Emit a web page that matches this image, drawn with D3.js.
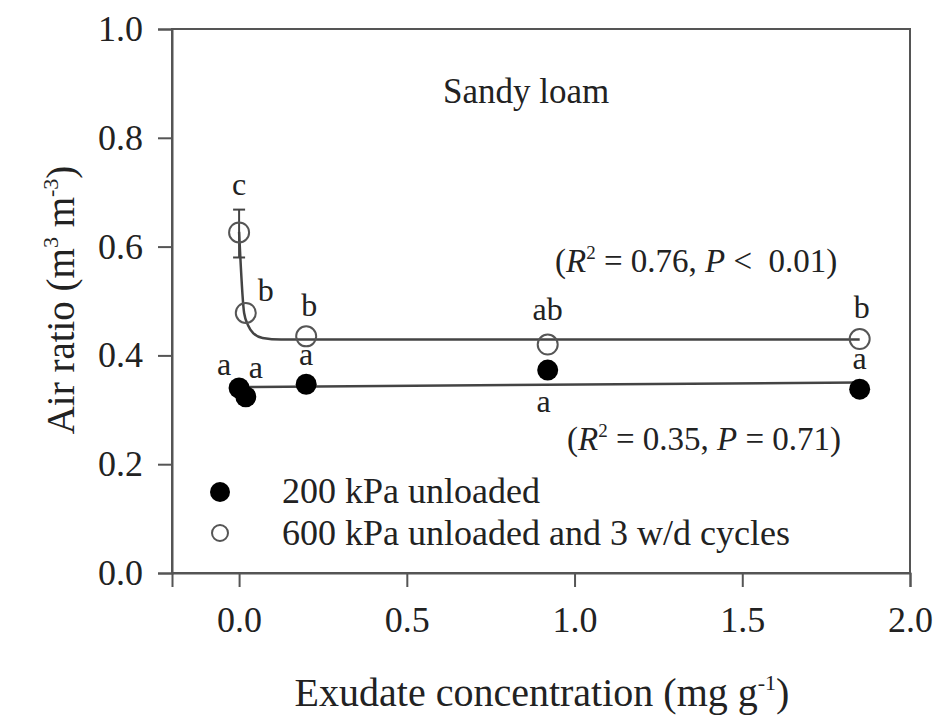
<!DOCTYPE html>
<html>
<head>
<meta charset="utf-8">
<script src="https://cdn.jsdelivr.net/npm/d3@7/dist/d3.min.js"></script>
<style>
body { margin: 0; background: #fff; }
text { font-family: "Liberation Serif", "Times New Roman", serif; fill: #222; }
</style>
</head>
<body>
<div id="draw"></div>
<script>
// exudate concentration (mg g-1)
var xVals = [0, 0.02, 0.2, 0.92, 1.85];

// air ratio, 200 kPa unloaded (filled)
var filledVals = [0.340, 0.324, 0.347, 0.373, 0.338];
var filledLetters = ['a', 'a', 'a', 'a', 'a'];

// air ratio, 600 kPa unloaded + 3 w/d cycles (open)
var openVals = [0.626, 0.478, 0.435, 0.420, 0.430];
var openLetters = ['c', 'b', 'b', 'ab', 'b'];
var openErrLo = [0.580, null, null, null, null];
var openErrHi = [0.668, null, null, null, null];

// fitted curves
var openFit = [[0, 0.627], [0.015, 0.478], [0.027, 0.455], [0.042, 0.441], [0.07, 0.432], [0.125, 0.429], [1.85, 0.429]];
var filledFit = [[0.02, 0.342], [1.85, 0.350]];

var xTicks = [0, 0.5, 1.0, 1.5, 2.0];
var yTicks = [0, 0.2, 0.4, 0.6, 0.8, 1.0];

var W = 940, H = 727;
var x = d3.scaleLinear().domain([-0.2, 2.0]).range([172, 910]);
var y = d3.scaleLinear().domain([0, 1]).range([573, 29]);

var svg = d3.select('#draw').append('svg')
    .attr('width', W).attr('height', H);

var axisColor = '#555';

// frame
svg.append('rect')
    .attr('x', x(-0.2)).attr('y', y(1))
    .attr('width', x(2.0) - x(-0.2)).attr('height', y(0) - y(1))
    .attr('fill', 'none').attr('stroke', axisColor).attr('stroke-width', 2);

// axes
var gx = svg.append('g').attr('transform', 'translate(0,' + y(0) + ')')
    .call(d3.axisBottom(x).tickValues(xTicks).tickSize(14).tickPadding(19)
        .tickFormat(d3.format('.1f')));
var gy = svg.append('g').attr('transform', 'translate(' + x(-0.2) + ',0)')
    .call(d3.axisLeft(y).tickValues(yTicks).tickSize(14).tickPadding(15)
        .tickFormat(d3.format('.1f')));
[gx, gy].forEach(function(g){
    g.select('.domain').attr('stroke', axisColor).attr('stroke-width', 2);
    g.selectAll('.tick line').attr('stroke', axisColor).attr('stroke-width', 2);
    g.selectAll('.tick text').attr('font-family', '"Liberation Serif", serif')
        .attr('font-size', 36).attr('fill', '#333');
});

// axis titles
svg.append('text')
    .attr('x', 542).attr('y', 706)
    .attr('text-anchor', 'middle').attr('font-size', 40)
    .html('Exudate concentration (mg g<tspan dy="-16" font-size="22">-1</tspan><tspan dy="16">)</tspan>');

svg.append('text')
    .attr('transform', 'translate(74,300) rotate(-90)')
    .attr('text-anchor', 'middle').attr('font-size', 39)
    .html('Air ratio (m<tspan dy="-16" font-size="22">3</tspan><tspan dy="16"> m</tspan><tspan dy="-16" font-size="22">-3</tspan><tspan dy="16">)</tspan>');

// panel title
svg.append('text')
    .attr('x', 443).attr('y', 103)
    .attr('font-size', 35)
    .text('Sandy loam');

// fit lines
var line = d3.line()
    .x(function(d){ return x(d[0]); })
    .y(function(d){ return y(d[1]); })
    .curve(d3.curveMonotoneX);

svg.append('path').datum(filledFit).attr('d', line)
    .attr('fill', 'none').attr('stroke', '#444').attr('stroke-width', 2.5);
svg.append('path').datum(openFit).attr('d', line)
    .attr('fill', 'none').attr('stroke', '#444').attr('stroke-width', 2.5);

// error bar
xVals.forEach(function(xv, i){
    if (openErrHi[i] == null) return;
    var cx = x(xv);
    svg.append('line').attr('x1', cx).attr('x2', cx)
        .attr('y1', y(openErrHi[i])).attr('y2', y(openErrLo[i]))
        .attr('stroke', '#444').attr('stroke-width', 2);
    [openErrHi[i], openErrLo[i]].forEach(function(v){
        svg.append('line').attr('x1', cx - 6).attr('x2', cx + 6)
            .attr('y1', y(v)).attr('y2', y(v))
            .attr('stroke', '#444').attr('stroke-width', 2);
    });
});

// points
svg.selectAll('circle.filled')
    .data(xVals)
    .enter()
    .append('circle')
    .attr('class', 'filled')
    .attr('cx', function(d){ return x(d); })
    .attr('cy', function(d, i){ return y(filledVals[i]); })
    .attr('r', 10.5)
    .attr('fill', '#000');

svg.selectAll('circle.open')
    .data(xVals)
    .enter()
    .append('circle')
    .attr('class', 'open')
    .attr('cx', function(d){ return x(d); })
    .attr('cy', function(d, i){ return y(openVals[i]); })
    .attr('r', 10)
    .attr('fill', 'none')
    .attr('stroke', '#555')
    .attr('stroke-width', 2);

// significance letters (offsets in px from the point)
var openLetterOff = [[0, -37], [20, -12], [3, -20], [0, -25], [2, -21]];
var filledLetterOff = [[-15, -13], [10, -19], [0, -19], [-4, 42], [0, -20]];

svg.selectAll('text.ol')
    .data(openLetters)
    .enter()
    .append('text')
    .attr('class', 'ol')
    .attr('x', function(d, i){ return x(xVals[i]) + openLetterOff[i][0]; })
    .attr('y', function(d, i){ return y(openVals[i]) + openLetterOff[i][1]; })
    .attr('text-anchor', 'middle').attr('font-size', 32)
    .text(function(d){ return d; });

svg.selectAll('text.fl')
    .data(filledLetters)
    .enter()
    .append('text')
    .attr('class', 'fl')
    .attr('x', function(d, i){ return x(xVals[i]) + filledLetterOff[i][0]; })
    .attr('y', function(d, i){ return y(filledVals[i]) + filledLetterOff[i][1]; })
    .attr('text-anchor', 'middle').attr('font-size', 32)
    .text(function(d){ return d; });

// regression stats
svg.append('text')
    .attr('x', 555).attr('y', 272).attr('font-size', 33)
    .html('(<tspan font-style="italic">R</tspan><tspan dy="-13" font-size="19">2</tspan><tspan dy="13"> = 0.76, </tspan><tspan font-style="italic">P</tspan> &lt;&#160;&#160;0.01)');
svg.append('text')
    .attr('x', 567).attr('y', 450).attr('font-size', 33)
    .html('(<tspan font-style="italic">R</tspan><tspan dy="-13" font-size="19">2</tspan><tspan dy="13"> = 0.35, </tspan><tspan font-style="italic">P</tspan> = 0.71)');

// legend
var legendLabels = ['200 kPa unloaded', '600 kPa unloaded and 3 w/d cycles'];
var legendFill = ['#000', 'none'];
var lg = svg.append('g');
lg.selectAll('circle')
    .data(legendLabels)
    .enter()
    .append('circle')
    .attr('cx', 220)
    .attr('cy', function(d, i){ return 492 + i * 41; })
    .attr('r', function(d, i){ return i ? 8 : 10; })
    .attr('fill', function(d, i){ return legendFill[i]; })
    .attr('stroke', function(d, i){ return i ? '#555' : 'none'; })
    .attr('stroke-width', 2);
lg.selectAll('text')
    .data(legendLabels)
    .enter()
    .append('text')
    .attr('x', 282)
    .attr('y', function(d, i){ return 503 + i * 42; })
    .attr('font-size', 36)
    .text(function(d){ return d; });
</script>
</body>
</html>
